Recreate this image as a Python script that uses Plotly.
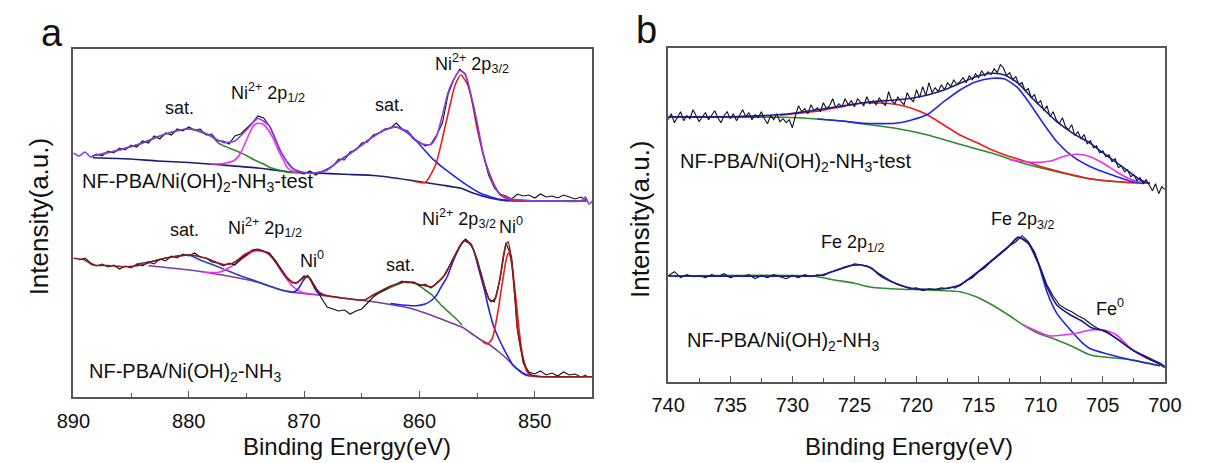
import plotly.graph_objects as go

W, H = 1211, 463

# ================= Panel a : Ni 2p =================
# --- upper spectrum: NF-PBA/Ni(OH)2-NH3-test ---
A1_RAW_START, A1_RAW_STEP = 888.5, 0.5
A1_RAW = [240, 243, 241, 246, 244, 249, 247, 252, 250, 256, 254, 261, 258, 264, 262, 268, 266, 270, 267, 268,
          262, 263, 256, 256, 253, 261, 263, 268, 274, 281, 279, 271, 258, 245, 236, 229, 225, 223, 226, 222,
          225, 228, 231, 238, 237, 245, 247, 254, 255, 262, 264, 268, 269, 274, 268, 266, 258, 255, 251, 253,
          262, 274, 303, 318, 328, 323, 300, 273, 244, 222, 209, 203, 201, 198, 203, 201, 202, 199, 203, 200,
          201, 199, 202, 200, 198, 200, 197]
A1_ENV_E = [890, 889.5, 889, 888.5, 888, 887, 886, 885, 884, 883, 882, 881, 880, 879, 878, 877, 876, 875, 874, 873,
            872, 871, 870, 869, 868, 867, 866, 865, 864, 863, 862, 861, 860, 859, 858.5, 858, 857.5, 857, 856.5, 856,
            855.5, 855, 854.5, 854, 853.5, 853, 852, 851, 850, 848, 846, 845.6, 845.3, 845]
A1_ENV = [244, 241, 245, 240, 242, 244.5, 247, 250.5, 254, 259, 263, 266.5, 268, 266, 260.5, 254.5, 256, 267, 278.5, 271,
          245, 228.5, 224.5, 224, 227, 236, 243.5, 252, 260.5, 267, 270, 265, 254, 252.5, 261, 282, 305, 318, 326.5, 322,
          301, 275, 245, 225, 211, 203, 198, 197, 196, 196, 196, 200, 193, 196]
A1_BG_E = [888.3, 885, 882.7, 880, 877.1, 874, 871.4, 869, 866.5, 863.7, 860.9, 858.1, 856.4, 855.3, 853.8, 852.5, 851, 848, 845.5]
A1_BG = [239.3, 238, 236, 234.5, 232, 229, 225.3, 224, 222.7, 221.3, 217, 212, 208.7, 203.7, 198.7, 196.3, 196, 196, 196]
A1_SAT1_E = [888, 886, 884, 882, 880, 878, 877.4, 876.5, 875.7, 875, 874.3, 873.5, 872.9, 872, 871.4, 870.5]
A1_SAT1 = [241.5, 247, 254, 263, 268, 260.5, 253.7, 249, 245.3, 241.5, 237, 233, 229.3, 226.5, 224.7, 224]
A1_P12_E = [878, 877, 876, 875.5, 874.8, 874.4, 874, 873.5, 873.1, 872.7, 872.3, 871.8, 871.4, 870.8, 870]
A1_P12 = [233, 233.5, 237, 244, 262, 271, 273.7, 272.5, 267, 259, 248.7, 237, 228.7, 225, 224]
A1_SAT2_E = [869, 868, 867, 866, 865, 864, 863, 862, 861, 860, 858.9, 857.5, 856.1, 854.7, 853, 851.5]
A1_SAT2 = [224, 227, 236, 243.5, 252, 260.5, 267, 270, 264, 252.7, 238.7, 225.3, 213.7, 203.7, 197.7, 196.5]
A1_P32_E = [860.6, 859.5, 858.6, 857.8, 857.3, 856.9, 856.4, 855.8, 855.4, 855, 854.1, 853, 851.9, 851]
A1_P32 = [216, 214.5, 232, 268.7, 294, 312, 322, 312, 294, 268.7, 228.7, 202, 196.7, 196]

# --- lower spectrum: NF-PBA/Ni(OH)2-NH3 ---
A2_RAW_START, A2_RAW_STEP = 889.5, 0.5
A2_RAW = [137, 139, 134, 131, 133, 130, 132, 128, 131, 129, 133, 131, 135, 133, 138, 136, 141, 139, 143, 141,
          144, 140, 139, 135, 134, 131, 134, 132, 138, 142, 147, 148, 146, 144, 137, 128, 120, 114, 115, 121,
          119, 110, 99, 90, 88, 86, 87, 83, 86, 88, 94, 100, 104, 107, 111, 113, 116, 114, 115, 111,
          113, 109, 114, 119, 129, 140, 151, 158, 153, 138, 116, 98, 95, 118, 154, 140, 68, 34, 25, 23,
          26, 22, 24, 21, 25, 22, 23, 20, 22]
A2_ENV_E = [890, 889, 888.3, 887, 885.5, 884.1, 882.7, 881.3, 879.9, 878.5, 877.1, 876.2, 875.1, 874.2, 873.1, 872.1,
            871.3, 870.7, 870.2, 869.7, 869.2, 868.6, 868.2, 866.5, 864.8, 864, 862.6, 861.2, 859.8, 858.9, 857.8,
            856.9, 856.1, 855.5, 854.7, 854.2, 853.8, 853.4, 853, 852.7, 852.5, 852.3, 852, 851.7, 851.5, 851.2,
            851, 850.7, 850.3, 849.5, 845]
A2_ENV = [138.7, 137, 132, 131.5, 130.3, 132, 137, 140.3, 142, 138.7, 132.7, 133.7, 142.7, 147, 143.7, 128.7,
          117, 113.7, 118, 121.3, 112, 104, 102, 98.7, 97, 102, 110.3, 115.3, 112, 110.3, 122,
          142, 157, 152, 125.3, 105, 95.3, 99, 120, 142, 152, 155, 135, 98, 68, 48,
          38, 28, 22, 20.5, 20.3]
A2_BG_E = [883.5, 879.9, 877.1, 874.2, 871.4, 869.3, 866.5, 863.7, 860.9, 859.5, 858.1, 857, 856.3, 855.3, 854.5,
           854, 853.1, 852.4, 851.8, 851.2, 850.8, 850, 845]
A2_BG = [131.3, 127, 122, 115.3, 105.3, 102.7, 98.7, 94.7, 89, 84, 78, 73, 70, 62, 56, 53, 45, 38, 31, 25, 22, 20.5, 20.3]
A2_SAT1_E = [884.5, 883, 882, 881, 880, 879, 878.2, 877.4, 876.4, 875.3, 874.2, 873.1, 872, 871]
A2_SAT1 = [133, 136, 139, 141, 142, 137, 133.5, 130, 125.3, 120.3, 116, 111.3, 107, 105]
A2_P12_E = [878.8, 877.4, 876.5, 875.7, 875.1, 874.6, 874.2, 873.7, 873.1, 872.5, 872.1, 871.5, 871, 870.5, 870, 869]
A2_P12 = [125, 124.7, 129.3, 135.5, 140.3, 144.5, 146, 146, 143, 136, 128, 118, 111, 106.5, 104, 102.5]
A2_NI0A_E = [871, 870.7, 870.4, 870.1, 869.7, 869.4, 869.1, 868.8, 868.4]
A2_NI0A = [105, 106, 110, 116, 121, 117, 109, 104, 102]
A2_SAT2_E = [864, 863, 862, 861.2, 860.3, 859.5, 858.9, 858.2, 857.5, 856.8, 856.3]
A2_SAT2 = [102, 107, 112, 115.3, 113.7, 107, 102, 93, 85.3, 78, 72]
A2_P32_E = [862.5, 861.5, 860.3, 859.5, 858.9, 858.5, 858.1, 857.6, 857.2, 856.8, 856.4, 856.1, 855.7, 855.3, 854.9,
            854.4, 854, 853.6, 853.1, 852.7, 852.3, 851.9, 851.4, 851, 850.5]
A2_P32 = [93.5, 92, 91.3, 93, 97, 102, 110.3, 120, 132, 143, 152, 156, 154, 147, 130,
          108.7, 89, 72, 58, 48.7, 40, 32, 27, 23.7, 21.5]
A2_NI0B_E = [854.5, 854.1, 853.7, 853.4, 853.1, 852.8, 852.5, 852.3, 852.1, 851.9, 851.6, 851.3, 851, 850.7, 850.3]
A2_NI0B = [55, 53, 58, 72, 92, 115, 136, 144, 140, 126, 95, 62, 38, 26, 21]

# ================= Panel b : Fe 2p =================
# --- upper spectrum: NF-PBA/Ni(OH)2-NH3-test ---
B1_RAW_START, B1_RAW_STEP = 740, 0.25
B1_RAW = [262, 268, 259, 264, 270, 261, 266, 263, 272, 266, 260, 265, 269, 262, 267, 271, 264, 259, 266, 270,
          263, 268, 261, 266, 272, 265, 269, 262, 267, 264, 270, 263, 258, 266, 262, 268, 260, 263, 259, 262,
          254, 266, 276, 270, 273, 268, 277, 271, 274, 270, 279, 273, 276, 283, 274, 278, 275, 283, 277, 281,
          275, 283, 279, 276, 285, 278, 281, 277, 284, 279, 276, 290, 281, 278, 285, 280, 277, 289, 283, 280,
          292, 284, 295, 286, 299, 289, 294, 290, 297, 292, 299, 295, 302, 297, 300, 304, 299, 306, 302, 308,
          304, 311, 306, 310, 307, 313, 309, 317, 314, 306, 309, 302, 305, 297, 299, 291, 293, 284, 287, 278,
          281, 271, 276, 265, 270, 262, 258, 264, 255, 252, 257, 246, 250, 243, 247, 238, 241, 234, 236, 229,
          231, 225, 227, 220, 223, 214, 216, 210, 212, 205, 207, 201, 204, 198, 202, 196, 191, 198, 188, 195,
          192]
B1_ENV_E = [740, 734.7, 730.7, 728.1, 725.5, 723.6, 721.7, 720.4, 719.1, 717.8, 716.5, 715.2, 713.9, 712.9, 711.8,
            710.8, 709.7, 708.7, 707.4, 706, 705, 704, 703, 702, 701.2]
B1_ENV = [265, 265, 267.4, 271.7, 276.7, 280, 281.7, 283.4, 286.7, 291.7, 298.4, 305, 308.4, 306.7, 298.4,
          285, 271.7, 260, 248.4, 238.4, 229, 220, 211, 202, 198.4]
B1_BG_E = [740, 730.7, 728.1, 725.5, 724.3, 721.7, 719.1, 716.5, 713.9, 711.4, 708.7, 706, 703.5, 701.2]
B1_BG = [264.4, 264.4, 262.7, 260, 257.7, 253.4, 246.7, 237.4, 228.4, 218.4, 210, 202.7, 199.7, 198.4]
B1_P12_E = [731, 728, 726, 724.3, 721.7, 720.4, 719.1, 717.8, 716.5, 715.2, 713.9, 712.7, 711.4, 710.2, 708.9, 706, 703.5, 701.2]
B1_P12 = [266.5, 270.5, 275, 279, 277.4, 273.4, 266.7, 256.7, 246.7, 239.4, 231.7, 226, 221, 216, 211.5, 203, 199.7, 198.4]
B1_P32_E = [728, 726, 724.3, 721.7, 720.4, 719.1, 717.8, 716.5, 715.2, 713.9, 712.9, 711.8, 710.8, 709.7, 708.7,
            707.4, 706, 704.7, 702.6, 701.2]
B1_P32 = [262.7, 260.7, 258.4, 258.4, 261.7, 267.4, 280, 291.7, 300, 303.4, 302.7, 293.4, 276.7, 256.7, 240,
          225, 215, 208.7, 200, 198.4]
B1_FE0_E = [712.5, 711.8, 710.5, 709.2, 708.3, 707.7, 707, 706, 705, 704, 703, 702, 701.2]
B1_FE0 = [222, 220.7, 219.4, 220.7, 224.7, 226.7, 227.4, 225, 218.7, 210.7, 203.7, 199.7, 198.4]

# --- lower spectrum: NF-PBA/Ni(OH)2-NH3 ---
B2_RAW_START, B2_RAW_STEP = 740, 0.5
B2_RAW = [106, 110, 104, 107, 105, 106, 104, 107, 105, 108, 104, 106, 105, 107, 103, 106, 104, 107, 105, 103,
          106, 104, 107, 105, 107, 106, 109, 111, 113, 115, 118, 117, 116, 112, 108, 104, 100, 97, 95, 93,
          94, 91, 93, 92, 94, 93, 95, 96, 101, 104, 110, 114, 120, 125, 130, 136, 140, 146, 140, 130,
          113, 97, 86, 77, 73, 70, 66, 63, 58, 54, 51, 48, 44, 40, 35, 31, 28, 24, 21, 18, 14]
B2_ENV_E = [740, 728.4, 727.6, 726.6, 725.5, 724.5, 723.6, 723, 721.7, 720.4, 719.1, 717.8, 716.5, 715.2, 713.9,
            712.6, 711.8, 711, 710.2, 709.5, 708.7, 707.6, 706.6, 706, 705.5, 704.7, 702.6, 700.4, 700]
B2_ENV = [105.7, 105.7, 106.7, 111, 115.7, 116.7, 113.4, 106.7, 98.4, 93.4, 92.4, 93, 96.7, 108.4, 121.7,
          135, 144.4, 138.4, 118.4, 95, 76.7, 66.7, 60, 54.5, 52.5, 50, 31.7, 18.4, 15]
B2_BG_E = [740, 728.4, 726.6, 725, 723.6, 721.7, 719.1, 716.5, 715.2, 713.9, 712.6, 711.4, 710.2, 708.7, 707.4,
           706, 702.6, 700.4]
B2_BG = [105.7, 105.7, 101.7, 98.4, 94.4, 92.7, 91.7, 90, 85, 76.7, 66.7, 56.7, 48.4, 41.7, 35, 26.7, 21.7, 16]
B2_P32_E = [717, 716.5, 715.2, 713.9, 712.6, 711.8, 711, 710.2, 709.5, 708.7, 707.6, 706.6, 706, 704.7, 702.6, 700.4]
B2_P32 = [93.5, 96.7, 108.4, 121.7, 135, 144.4, 138.4, 118.4, 90, 68.4, 51.7, 38.4, 33, 28, 21.5, 16]
B2_FE0_E = [711.4, 710.2, 709.2, 708.2, 707.1, 706, 705, 704, 702.6, 701.5, 700.4]
B2_FE0 = [56.7, 50, 45.7, 46.7, 48.4, 51.7, 52, 47.7, 31.7, 23.7, 18.4]

# ---------------- styling ----------------
C_RAW = "#111111"
C_GREEN = "#2e8b2e"
C_MAG = "#ee30ee"
C_BLUE = "#2424e8"
C_RED = "#f01c1c"
C_A1_ENV = "#8b3de6"
C_A1_BG = "#1c1c78"
C_A2_ENV = "#8e1a1a"
C_A2_BG = "#7d3c98"
C_A2_SAT1 = "#2a44b0"
C_B_ENV = "#1a1a8c"
FRAME = "#555555"
FONT = "Liberation Sans, Arial, sans-serif"


def grid(start, step, n):
    return [start - step * i for i in range(n)]


fig = go.Figure()


def line(x, y, color, ax, width=1.6, spline=True):
    fig.add_trace(go.Scatter(
        x=x, y=y, mode="lines",
        line=dict(color=color, width=width, shape="spline" if spline else "linear", smoothing=0.6),
        xaxis="x" if ax == 1 else "x2", yaxis="y" if ax == 1 else "y2",
        hoverinfo="skip", showlegend=False))


# panel a upper
line(A1_BG_E, A1_BG, C_A1_BG, 1)
line(A1_SAT1_E, A1_SAT1, C_GREEN, 1)
line(A1_P12_E, A1_P12, C_MAG, 1)
line(A1_SAT2_E, A1_SAT2, C_BLUE, 1)
line(A1_P32_E, A1_P32, C_RED, 1)
line(grid(A1_RAW_START, A1_RAW_STEP, len(A1_RAW)), A1_RAW, C_RAW, 1, 1.1, False)
line(A1_ENV_E, A1_ENV, C_A1_ENV, 1)
# panel a lower
line(A2_BG_E, A2_BG, C_A2_BG, 1)
line(A2_SAT1_E, A2_SAT1, C_A2_SAT1, 1)
line(A2_P12_E, A2_P12, C_MAG, 1)
line(A2_NI0A_E, A2_NI0A, C_BLUE, 1)
line(A2_SAT2_E, A2_SAT2, C_GREEN, 1)
line(A2_P32_E, A2_P32, C_BLUE, 1)
line(A2_NI0B_E, A2_NI0B, C_RED, 1)
line(grid(A2_RAW_START, A2_RAW_STEP, len(A2_RAW)), A2_RAW, C_RAW, 1, 1.1, False)
line(A2_ENV_E, A2_ENV, C_A2_ENV, 1)
# panel b upper
line(B1_BG_E, B1_BG, C_GREEN, 2)
line(B1_P12_E, B1_P12, C_RED, 2)
line(B1_P32_E, B1_P32, C_BLUE, 2)
line(B1_FE0_E, B1_FE0, C_MAG, 2)
line(grid(B1_RAW_START, B1_RAW_STEP, len(B1_RAW)), B1_RAW, C_RAW, 2, 1.1, False)
line(B1_ENV_E, B1_ENV, C_B_ENV, 2)
# panel b lower
line(B2_BG_E, B2_BG, C_GREEN, 2)
line(B2_P32_E, B2_P32, C_BLUE, 2)
line(B2_FE0_E, B2_FE0, C_MAG, 2)
line(grid(B2_RAW_START, B2_RAW_STEP, len(B2_RAW)), B2_RAW, C_RAW, 2, 1.1, False)
line(B2_ENV_E, B2_ENV, C_B_ENV, 2)


def px(x):
    return x / W


def py(y):
    return 1 - y / H


xcommon = dict(showline=True, mirror=True, linecolor=FRAME, linewidth=1.5, ticks="inside",
               tickcolor=FRAME, ticklen=6, tickwidth=1.3, showgrid=False, zeroline=False,
               tickfont=dict(family=FONT, size=20, color="#111"), ticklabelstandoff=5)
ycommon = dict(showline=True, mirror=True, linecolor=FRAME, linewidth=1.5, ticks="",
               showticklabels=False, showgrid=False, zeroline=False)

fig.update_layout(
    width=W, height=H, margin=dict(l=0, r=0, t=0, b=0),
    paper_bgcolor="white", plot_bgcolor="white", showlegend=False,
    font=dict(family=FONT, color="#111"),
    xaxis=dict(domain=[px(58), px(592)], range=[890, 845], tickvals=[890, 880, 870, 860, 850],
               minor=dict(tickvals=[885, 875, 865, 855], ticks="inside", ticklen=4, tickcolor=FRAME),
               anchor="y", **xcommon),
    yaxis=dict(domain=[py(397), py(49)], range=[0, 348], anchor="x", **ycommon),
    xaxis2=dict(domain=[px(670), px(1181)], range=[740, 700], tickvals=[740, 735, 730, 725, 720, 715, 710, 705, 700],
                minor=dict(tickvals=[737.5, 732.5, 727.5, 722.5, 717.5, 712.5, 707.5, 702.5], ticks="inside",
                           ticklen=4, tickcolor=FRAME),
                anchor="y2", **xcommon),
    yaxis2=dict(domain=[py(381.7), py(48.3)], range=[0, 333.4], anchor="x2", **ycommon),
)


def ann(x, y, text, size, xanchor="center", angle=0):
    fig.add_annotation(x=px(x), y=py(y), xref="paper", yref="paper", text=text, showarrow=False,
                       xanchor=xanchor, yanchor="middle", textangle=angle,
                       font=dict(family=FONT, size=size, color="#111"))


# panel letters
ann(36, 33, "a", 38)
ann(648, 30, "b", 38)
# axis titles
ann(340, 446, "Binding Energy(eV)", 24)
ann(918, 446, "Binding Energy(eV)", 24)
ann(23, 216, "Intensity(a.u.)", 26, angle=-90)
ann(641, 219, "Intensity(a.u.)", 26, angle=-90)

# panel a labels
ann(167, 108, "sat.", 18)
ann(258, 93, "Ni<sup>2+</sup> 2p<sub>1/2</sub>", 18)
ann(383, 105, "sat.", 18)
ann(468, 63, "Ni<sup>2+</sup> 2p<sub>3/2</sub>", 18)
ann(65, 182, "NF-PBA/Ni(OH)<sub>2</sub>-NH<sub>3</sub>-test", 20, xanchor="left")
ann(172, 230, "sat.", 18)
ann(255, 227, "Ni<sup>2+</sup> 2p<sub>1/2</sub>", 18)
ann(304, 259, "Ni<sup>0</sup>", 18)
ann(395, 265, "sat.", 18)
ann(455, 218, "Ni<sup>2+</sup> 2p<sub>3/2</sub>", 18)
ann(508, 225, "Ni<sup>0</sup>", 18)
ann(72, 372, "NF-PBA/Ni(OH)<sub>2</sub>-NH<sub>3</sub>", 20, xanchor="left")

# panel b labels
ann(680, 163, "NF-PBA/Ni(OH)<sub>2</sub>-NH<sub>3</sub>-test", 20, xanchor="left")
ann(860, 243, "Fe 2p<sub>1/2</sub>", 18)
ann(1035, 220, "Fe 2p<sub>3/2</sub>", 18)
ann(1125, 307, "Fe<sup>0</sup>", 18)
ann(687, 341, "NF-PBA/Ni(OH)<sub>2</sub>-NH<sub>3</sub>", 20, xanchor="left")

fig.write_html("out.html")
